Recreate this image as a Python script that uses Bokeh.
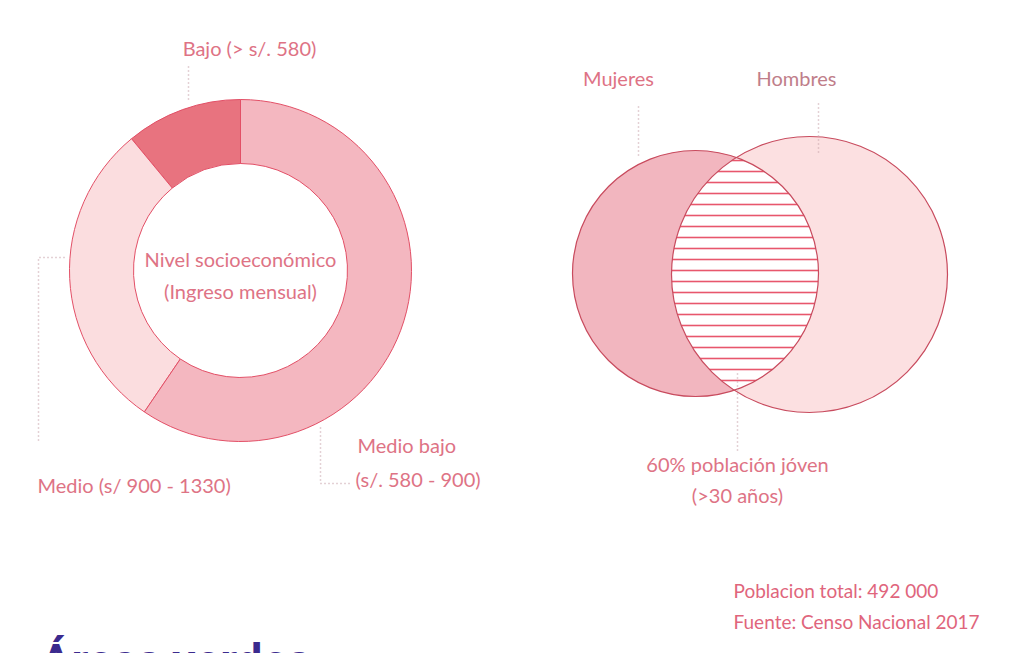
import numpy as np
from bokeh.plotting import figure
from bokeh.models import Range1d
from bokeh.core.properties import value
from bokeh.embed import file_html
from bokeh.resources import INLINE

# ---------------- data ----------------
income_levels = ["Bajo", "Medio", "Medio bajo"]
income_shares = [11, 29.5, 59.5]          # % of population (read from the donut)
income_colors = ["#E8737F", "#FBDDDF", "#F4B7C0"]
income_labels = ["Bajo (> s/. 580)", "Medio (s/ 900 - 1330)", "Medio bajo", "(s/. 580 - 900)"]
center_labels = ["Nivel socioeconómico", "(Ingreso mensual)"]
venn_groups = ["Mujeres", "Hombres"]
venn_colors = ["#F2B6BF", "#FCE0E1"]
venn_note = ["60% población jóven", "(>30 años)"]
footer = ["Poblacion total: 492 000", "Fuente: Censo Nacional 2017"]
section_title = "Áreas verdes"

# ---------------- layout helpers ----------------
W, H = 1018, 653
def Y(v):  # picture pixel row -> data y
    return H - v

FONT = value("Lato")
TXT = "#DE7385"
EDGE = "#E24F66"
DOT = "#C9A3AB"
FS = "20px"

p = figure(width=W, height=H, output_backend="svg", toolbar_location=None,
           x_range=Range1d(0, W), y_range=Range1d(0, H),
           min_border=0)
p.axis.visible = False
p.grid.visible = False
p.outline_line_color = None
p.background_fill_color = "white"

# ---------------- donut ----------------
cx, cy, r_in, r_out = 240, Y(270), 107, 171
shares = np.array(income_shares, dtype=float)
fr = shares / shares.sum()
starts = np.pi / 2 + 2 * np.pi * np.concatenate([[0], np.cumsum(fr)[:-1]])
ends = starts + 2 * np.pi * fr
p.annular_wedge(x=[cx] * 3, y=[cy] * 3, inner_radius=r_in, outer_radius=r_out,
                start_angle=list(starts), end_angle=list(ends),
                fill_color=income_colors, line_color=EDGE, line_width=1)

p.text(x=[cx, cx], y=[Y(258), Y(290)], text=center_labels, text_font=FONT,
       text_font_size=FS, text_color=TXT, text_align="center", text_baseline="middle")

# leader lines donut
p.line([188, 188], [Y(66), Y(102)], line_color=DOT, line_dash="1 3", line_width=1.5)
p.line([64, 38, 38], [Y(257), Y(257), Y(440)], line_color=DOT, line_dash="1 3", line_width=1.5)
p.line([320, 320, 352], [Y(427), Y(483), Y(483)], line_color=DOT, line_dash="1 3", line_width=1.5)

p.text(x=[249], y=[Y(47)], text=[income_labels[0]], text_font=FONT, text_font_size=FS,
       text_color=TXT, text_align="center", text_baseline="middle")
p.text(x=[37], y=[Y(484)], text=[income_labels[1]], text_font=FONT, text_font_size=FS,
       text_color=TXT, text_align="left", text_baseline="middle")
p.text(x=[357, 355], y=[Y(444), Y(478)], text=income_labels[2:], text_font=FONT,
       text_font_size=FS, text_color=TXT, text_align="left", text_baseline="middle")

# ---------------- venn ----------------
c1 = np.array([695.0, Y(273)]); r1 = 123.0
c2 = np.array([809.0, Y(274)]); r2 = 138.0
p.circle(x=[c1[0]], y=[c1[1]], radius=r1, fill_color=venn_colors[0], line_color=None)
p.circle(x=[c2[0]], y=[c2[1]], radius=r2, fill_color=venn_colors[1], line_color=None)

# lens (intersection) computed from the two circles
d = np.linalg.norm(c2 - c1)
a = (r1 ** 2 - r2 ** 2 + d ** 2) / (2 * d)
h = np.sqrt(r1 ** 2 - a ** 2)
u = (c2 - c1) / d
perp = np.array([-u[1], u[0]])
pm = c1 + a * u
pa, pb = pm + h * perp, pm - h * perp
def ang(c, pt):
    return np.arctan2(pt[1] - c[1], pt[0] - c[0])
a1s, a1e = ang(c1, pb), ang(c1, pa)
if a1e < a1s:
    a1e += 2 * np.pi
t1 = np.linspace(a1s, a1e, 80)
a2s, a2e = ang(c2, pa), ang(c2, pb)
if a2e < a2s:
    a2e += 2 * np.pi
t2 = np.linspace(a2s, a2e, 80)
lx = np.concatenate([c1[0] + r1 * np.cos(t1), c2[0] + r2 * np.cos(t2)])
ly = np.concatenate([c1[1] + r1 * np.sin(t1), c2[1] + r2 * np.sin(t2)])
p.patch(lx, ly, fill_color="white", line_color=None,
        hatch_pattern="horizontal_line", hatch_scale=11, hatch_weight=1.6, hatch_color="#E8576C")

p.circle(x=[c1[0]], y=[c1[1]], radius=r1, fill_color=None, line_color="#C84B5E", line_width=1.2)
p.circle(x=[c2[0]], y=[c2[1]], radius=r2, fill_color=None, line_color="#C84B5E", line_width=1.2)

p.line([638, 638], [Y(106), Y(158)], line_color=DOT, line_dash="1 3", line_width=1.5)
p.line([818, 818], [Y(103), Y(155)], line_color=DOT, line_dash="1 3", line_width=1.5)
p.line([737, 737], [Y(373), Y(452)], line_color=DOT, line_dash="1 3", line_width=1.5)

p.text(x=[618], y=[Y(77)], text=[venn_groups[0]], text_font=FONT, text_font_size=FS,
       text_color=TXT, text_align="center", text_baseline="middle")
p.text(x=[796], y=[Y(77)], text=[venn_groups[1]], text_font=FONT, text_font_size=FS,
       text_color="#C07E8A", text_align="center", text_baseline="middle")
p.text(x=[737, 737], y=[Y(463), Y(494)], text=venn_note, text_font=FONT, text_font_size=FS,
       text_color=TXT, text_align="center", text_baseline="middle")

# ---------------- footer ----------------
p.text(x=[733, 733], y=[Y(590), Y(621)], text=footer, text_font=FONT, text_font_size="19px",
       text_color="#E0657C", text_align="left", text_baseline="middle")
p.text(x=[40], y=[Y(660)], text=[section_title], text_font=value("Roboto"),
       text_font_style="bold", text_font_size="46px", text_color="#3B2A8E",
       text_align="left", text_baseline="alphabetic")

open("out.html", "w").write(file_html(p, INLINE))
